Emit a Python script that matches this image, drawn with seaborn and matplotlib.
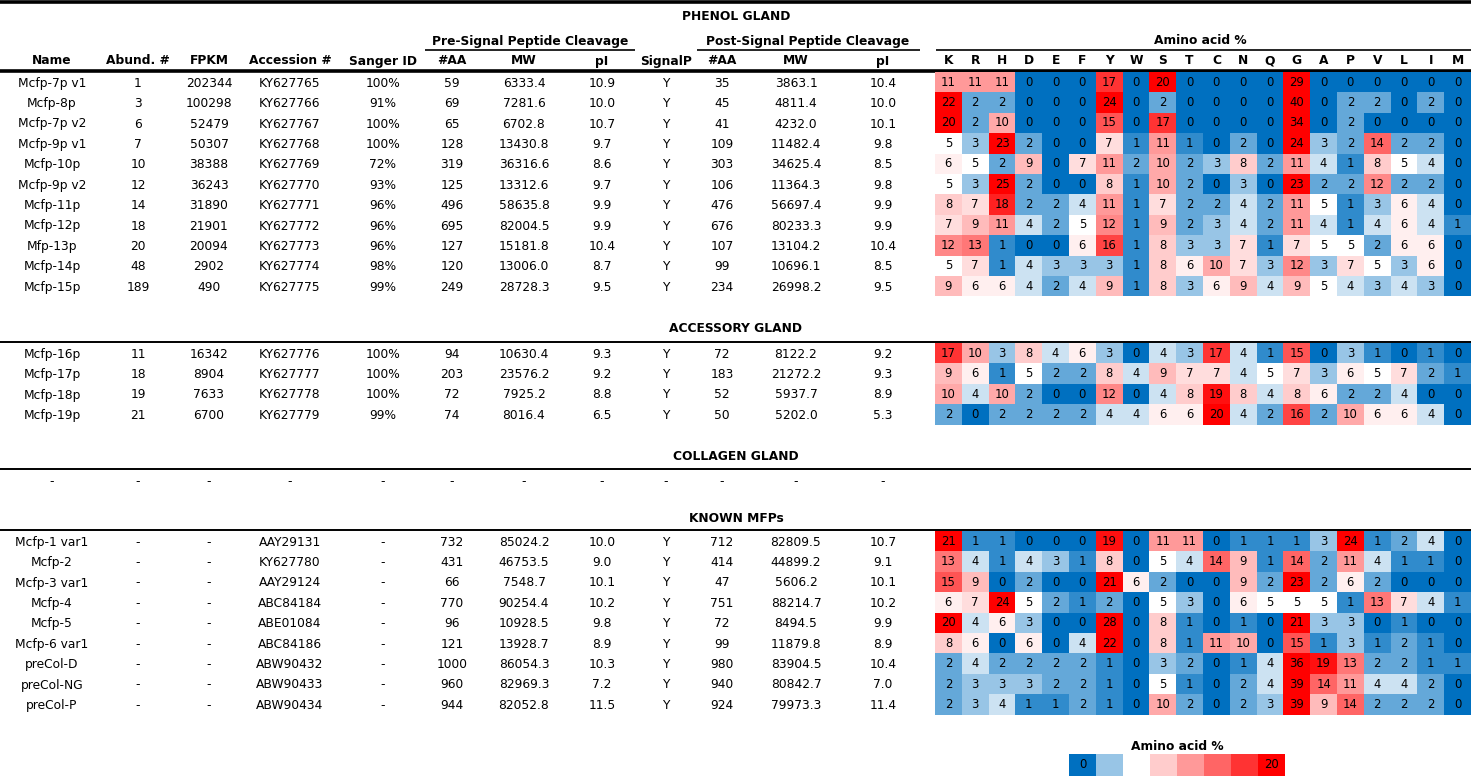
import pandas as pd
import seaborn as sns
import matplotlib.pyplot as plt
from matplotlib.colors import LinearSegmentedColormap

W, H = 1471, 776
ROW = 20.4

amino_acids = ["K", "R", "H", "D", "E", "F", "Y", "W", "S", "T",
               "C", "N", "Q", "G", "A", "P", "V", "L", "I", "M"]

# table columns: phenol gland (11 rows), accessory gland (4), known MFPs (9)
names = ["Mcfp-7p v1", "Mcfp-8p", "Mcfp-7p v2", "Mcfp-9p v1", "Mcfp-10p", "Mcfp-9p v2",
         "Mcfp-11p", "Mcfp-12p", "Mfp-13p", "Mcfp-14p", "Mcfp-15p",
         "Mcfp-16p", "Mcfp-17p", "Mcfp-18p", "Mcfp-19p",
         "Mcfp-1 var1", "Mcfp-2", "Mcfp-3 var1", "Mcfp-4", "Mcfp-5", "Mcfp-6 var1",
         "preCol-D", "preCol-NG", "preCol-P"]
abund = ["1", "3", "6", "7", "10", "12", "14", "18", "20", "48", "189",
         "11", "18", "19", "21"] + ["-"] * 9
fpkm = ["202344", "100298", "52479", "50307", "38388", "36243", "31890", "21901", "20094", "2902", "490",
        "16342", "8904", "7633", "6700"] + ["-"] * 9
accession = ["KY627765", "KY627766", "KY627767", "KY627768", "KY627769", "KY627770",
             "KY627771", "KY627772", "KY627773", "KY627774", "KY627775",
             "KY627776", "KY627777", "KY627778", "KY627779",
             "AAY29131", "KY627780", "AAY29124", "ABC84184", "ABE01084", "ABC84186",
             "ABW90432", "ABW90433", "ABW90434"]
sanger = ["100%", "91%", "100%", "100%", "72%", "93%", "96%", "96%", "96%", "98%", "99%",
          "100%", "100%", "100%", "99%"] + ["-"] * 9
pre_aa = ["59", "69", "65", "128", "319", "125", "496", "695", "127", "120", "249",
          "94", "203", "72", "74",
          "732", "431", "66", "770", "96", "121", "1000", "960", "944"]
pre_mw = ["6333.4", "7281.6", "6702.8", "13430.8", "36316.6", "13312.6", "58635.8", "82004.5",
          "15181.8", "13006.0", "28728.3",
          "10630.4", "23576.2", "7925.2", "8016.4",
          "85024.2", "46753.5", "7548.7", "90254.4", "10928.5", "13928.7",
          "86054.3", "82969.3", "82052.8"]
pre_pi = ["10.9", "10.0", "10.7", "9.7", "8.6", "9.7", "9.9", "9.9", "10.4", "8.7", "9.5",
          "9.3", "9.2", "8.8", "6.5",
          "10.0", "9.0", "10.1", "10.2", "9.8", "8.9", "10.3", "7.2", "11.5"]
signalp = ["Y"] * 24
post_aa = ["35", "45", "41", "109", "303", "106", "476", "676", "107", "99", "234",
           "72", "183", "52", "50",
           "712", "414", "47", "751", "72", "99", "980", "940", "924"]
post_mw = ["3863.1", "4811.4", "4232.0", "11482.4", "34625.4", "11364.3", "56697.4", "80233.3",
           "13104.2", "10696.1", "26998.2",
           "8122.2", "21272.2", "5937.7", "5202.0",
           "82809.5", "44899.2", "5606.2", "88214.7", "8494.5", "11879.8",
           "83904.5", "80842.7", "79973.3"]
post_pi = ["10.4", "10.0", "10.1", "9.8", "8.5", "9.8", "9.9", "9.9", "10.4", "8.5", "9.5",
           "9.2", "9.3", "8.9", "5.3",
           "10.7", "9.1", "10.1", "10.2", "9.9", "8.9", "10.4", "7.0", "11.4"]

# amino acid composition (%)
phenol_aa = [
    [11, 11, 11, 0, 0, 0, 17, 0, 20, 0, 0, 0, 0, 29, 0, 0, 0, 0, 0, 0],
    [22, 2, 2, 0, 0, 0, 24, 0, 2, 0, 0, 0, 0, 40, 0, 2, 2, 0, 2, 0],
    [20, 2, 10, 0, 0, 0, 15, 0, 17, 0, 0, 0, 0, 34, 0, 2, 0, 0, 0, 0],
    [5, 3, 23, 2, 0, 0, 7, 1, 11, 1, 0, 2, 0, 24, 3, 2, 14, 2, 2, 0],
    [6, 5, 2, 9, 0, 7, 11, 2, 10, 2, 3, 8, 2, 11, 4, 1, 8, 5, 4, 0],
    [5, 3, 25, 2, 0, 0, 8, 1, 10, 2, 0, 3, 0, 23, 2, 2, 12, 2, 2, 0],
    [8, 7, 18, 2, 2, 4, 11, 1, 7, 2, 2, 4, 2, 11, 5, 1, 3, 6, 4, 0],
    [7, 9, 11, 4, 2, 5, 12, 1, 9, 2, 3, 4, 2, 11, 4, 1, 4, 6, 4, 1],
    [12, 13, 1, 0, 0, 6, 16, 1, 8, 3, 3, 7, 1, 7, 5, 5, 2, 6, 6, 0],
    [5, 7, 1, 4, 3, 3, 3, 1, 8, 6, 10, 7, 3, 12, 3, 7, 5, 3, 6, 0],
    [9, 6, 6, 4, 2, 4, 9, 1, 8, 3, 6, 9, 4, 9, 5, 4, 3, 4, 3, 0],
]
accessory_aa = [
    [17, 10, 3, 8, 4, 6, 3, 0, 4, 3, 17, 4, 1, 15, 0, 3, 1, 0, 1, 0],
    [9, 6, 1, 5, 2, 2, 8, 4, 9, 7, 7, 4, 5, 7, 3, 6, 5, 7, 2, 1],
    [10, 4, 10, 2, 0, 0, 12, 0, 4, 8, 19, 8, 4, 8, 6, 2, 2, 4, 0, 0],
    [2, 0, 2, 2, 2, 2, 4, 4, 6, 6, 20, 4, 2, 16, 2, 10, 6, 6, 4, 0],
]
known_aa = [
    [21, 1, 1, 0, 0, 0, 19, 0, 11, 11, 0, 1, 1, 1, 3, 24, 1, 2, 4, 0],
    [13, 4, 1, 4, 3, 1, 8, 0, 5, 4, 14, 9, 1, 14, 2, 11, 4, 1, 1, 0],
    [15, 9, 0, 2, 0, 0, 21, 6, 2, 0, 0, 9, 2, 23, 2, 6, 2, 0, 0, 0],
    [6, 7, 24, 5, 2, 1, 2, 0, 5, 3, 0, 6, 5, 5, 5, 1, 13, 7, 4, 1],
    [20, 4, 6, 3, 0, 0, 28, 0, 8, 1, 0, 1, 0, 21, 3, 3, 0, 1, 0, 0],
    [8, 6, 0, 6, 0, 4, 22, 0, 8, 1, 11, 10, 0, 15, 1, 3, 1, 2, 1, 0],
    [2, 4, 2, 2, 2, 2, 1, 0, 3, 2, 0, 1, 4, 36, 19, 13, 2, 2, 1, 1],
    [2, 3, 3, 3, 2, 2, 1, 0, 5, 1, 0, 2, 4, 39, 14, 11, 4, 4, 2, 0],
    [2, 3, 4, 1, 1, 2, 1, 0, 10, 2, 0, 2, 3, 39, 9, 14, 2, 2, 2, 0],
]
legend_steps = [0, 3, 5, 8, 11, 14, 17, 20]

headers = ["Name", "Abund. #", "FPKM", "Accession #", "Sanger ID", "#AA", "MW", "pI",
           "SignalP", "#AA", "MW", "pI"]
col_x = [52, 138, 209, 290, 383, 452, 524, 602, 666, 722, 796, 883]
columns = [names, abund, fpkm, accession, sanger, pre_aa, pre_mw, pre_pi,
           signalp, post_aa, post_mw, post_pi]

cmap = LinearSegmentedColormap.from_list(
    "aa", [(0, "#0070C0"), (0.25, "#FFFFFF"), (1, "#FF0000")])

FS = 8.8
HM_X0 = 935

fig = plt.figure(figsize=(W / 100, H / 100), dpi=100)
ax = fig.add_axes([0, 0, 1, 1])
ax.set_xlim(0, W)
ax.set_ylim(H, 0)
ax.axis("off")


def hline(y, x0=0, x1=W, lw=1.4):
    ax.plot([x0, x1], [y, y], color="black", lw=lw, solid_capstyle="butt")


def heat_block(values, top, x0=HM_X0, x1=W, annot=True, fmt="d"):
    n = len(values)
    hax = fig.add_axes([x0 / W, 1 - (top + n * ROW) / H, (x1 - x0) / W, n * ROW / H])
    df = pd.DataFrame(values)
    sns.heatmap(df, ax=hax, cmap=cmap, vmin=0, vmax=20, annot=annot, fmt=fmt,
                cbar=False, xticklabels=False, yticklabels=False,
                annot_kws={"color": "black", "fontsize": 8.4})
    return hax


# top rule and header block
hline(1.5, lw=2.6)
ax.text(736, 17, "PHENOL GLAND", ha="center", va="center", fontsize=FS, fontweight="bold")
ax.text(530, 41, "Pre-Signal Peptide Cleavage", ha="center", va="center", fontsize=FS, fontweight="bold")
hline(50, 425, 635, lw=1.2)
ax.text(808, 41, "Post-Signal Peptide Cleavage", ha="center", va="center", fontsize=FS, fontweight="bold")
hline(50, 697, 920, lw=1.2)
ax.text(1200, 41, "Amino acid %", ha="center", va="center", fontsize=FS, fontweight="bold")
hline(50, 936, W, lw=1.2)
for x, h in zip(col_x, headers):
    ax.text(x, 61, h, ha="center", va="center", fontsize=FS, fontweight="bold")
cw = (W - HM_X0) / len(amino_acids)
for j, a in enumerate(amino_acids):
    ax.text(HM_X0 + (j + 0.5) * cw, 61, a, ha="center", va="center", fontsize=FS, fontweight="bold")
hline(70.8, lw=2.6)


def table_rows(start, count, top):
    for i in range(count):
        y = top + (i + 0.5) * ROW + 1
        for x, col in zip(col_x, columns):
            ax.text(x, y, col[start + i], ha="center", va="center", fontsize=FS)


# phenol gland
table_rows(0, 11, 72)
heat_block(phenol_aa, 72)

# accessory gland
ax.text(736, 329, "ACCESSORY GLAND", ha="center", va="center", fontsize=FS, fontweight="bold")
hline(342, lw=1.4)
table_rows(11, 4, 343)
heat_block(accessory_aa, 343)

# collagen gland
ax.text(736, 456, "COLLAGEN GLAND", ha="center", va="center", fontsize=FS, fontweight="bold")
hline(469, lw=1.4)
for x in col_x:
    ax.text(x, 482, "-", ha="center", va="center", fontsize=FS)

# known MFPs
ax.text(736, 518, "KNOWN MFPs", ha="center", va="center", fontsize=FS, fontweight="bold")
hline(530, lw=1.4)
table_rows(15, 9, 531)
heat_block(known_aa, 531)

# colour key
ax.text(1177, 746, "Amino acid %", ha="center", va="center", fontsize=FS, fontweight="bold")
key_labels = [["0", "", "", "", "", "", "", "20"]]
kax = fig.add_axes([1069 / W, 0, (1285 - 1069) / W, 22 / H])
sns.heatmap(pd.DataFrame([legend_steps]), ax=kax, cmap=cmap, vmin=0, vmax=20,
            annot=key_labels, fmt="", cbar=False, xticklabels=False, yticklabels=False,
            annot_kws={"color": "black", "fontsize": 8.4})

fig.savefig("out.png", dpi=100)
